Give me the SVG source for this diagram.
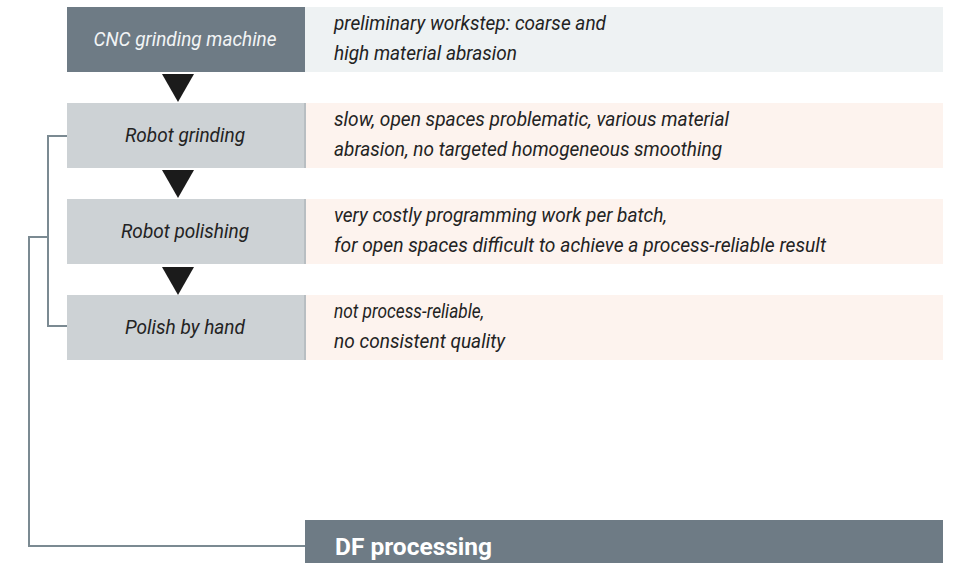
<svg xmlns="http://www.w3.org/2000/svg" width="957" height="563" viewBox="0 0 957 563">
<style>
.lbl{font-family:Roboto,"Liberation Sans",sans-serif;font-style:italic;font-size:20.5px;text-anchor:middle;fill:#232323}
.dsc{font-family:Roboto,"Liberation Sans",sans-serif;font-style:italic;font-size:20px;fill:#232323}
.step{fill:#cdd2d5}
.note{fill:#fdf3ee}
.sep{stroke:#b8bec2;stroke-width:2}
.conn{fill:none;stroke:#7b8a92;stroke-width:2}
.tri{fill:#1b1b1b}
</style>
<rect width="957" height="563" fill="#ffffff"/>
<g id="connectors">
<path class="conn" d="M67,136 H48 V326 H67"/>
<path class="conn" d="M48,237 H29 V546 H305"/>
<polygon class="tri" points="162,74 194,74 178,102"/>
<polygon class="tri" points="162,170 194,170 178,198"/>
<polygon class="tri" points="162,267 194,267 178,295"/>
</g>
<g id="cnc">
<rect x="67" y="7" width="238" height="65" fill="#6e7b85"/>
<rect x="305" y="7" width="638" height="65" fill="#eef2f3"/>
<text class="lbl" x="185" y="46" textLength="183" lengthAdjust="spacingAndGlyphs" style="fill:#f2f4f5">CNC grinding machine</text>
<text class="dsc" x="334" y="30" textLength="272" lengthAdjust="spacingAndGlyphs">preliminary workstep: coarse and</text>
<text class="dsc" x="334" y="60" textLength="183" lengthAdjust="spacingAndGlyphs">high material abrasion</text>
</g>
<g id="robot-grinding">
<rect class="step" x="67" y="103" width="238" height="65"/>
<rect class="note" x="305" y="103" width="638" height="65"/>
<line class="sep" x1="305" y1="103" x2="305" y2="168"/>
<text class="lbl" x="185" y="142" textLength="120" lengthAdjust="spacingAndGlyphs">Robot grinding</text>
<text class="dsc" x="334" y="126" textLength="395" lengthAdjust="spacingAndGlyphs">slow, open spaces problematic, various material</text>
<text class="dsc" x="334" y="156" textLength="388" lengthAdjust="spacingAndGlyphs">abrasion, no targeted homogeneous smoothing</text>
</g>
<g id="robot-polishing">
<rect class="step" x="67" y="199" width="238" height="65"/>
<rect class="note" x="305" y="199" width="638" height="65"/>
<line class="sep" x1="305" y1="199" x2="305" y2="264"/>
<text class="lbl" x="185" y="238" textLength="128" lengthAdjust="spacingAndGlyphs">Robot polishing</text>
<text class="dsc" x="334" y="222" textLength="333" lengthAdjust="spacingAndGlyphs">very costly programming work per batch,</text>
<text class="dsc" x="334" y="252" textLength="492" lengthAdjust="spacingAndGlyphs">for open spaces difficult to achieve a process-reliable result</text>
</g>
<g id="polish-by-hand">
<rect class="step" x="67" y="295" width="238" height="65"/>
<rect class="note" x="305" y="295" width="638" height="65"/>
<line class="sep" x1="305" y1="295" x2="305" y2="360"/>
<text class="lbl" x="185" y="334" textLength="120" lengthAdjust="spacingAndGlyphs">Polish by hand</text>
<text class="dsc" x="334" y="318" textLength="150" lengthAdjust="spacingAndGlyphs">not process-reliable,</text>
<text class="dsc" x="334" y="348" textLength="171" lengthAdjust="spacingAndGlyphs">no consistent quality</text>
</g>
<g id="df-processing">
<rect x="305" y="520" width="638" height="43" fill="#6e7b85"/>
<text x="335" y="555" textLength="157" lengthAdjust="spacingAndGlyphs" style="font-family:Roboto,'Liberation Sans',sans-serif;font-weight:bold;font-size:23px;fill:#ffffff">DF processing</text>
</g>
</svg>
